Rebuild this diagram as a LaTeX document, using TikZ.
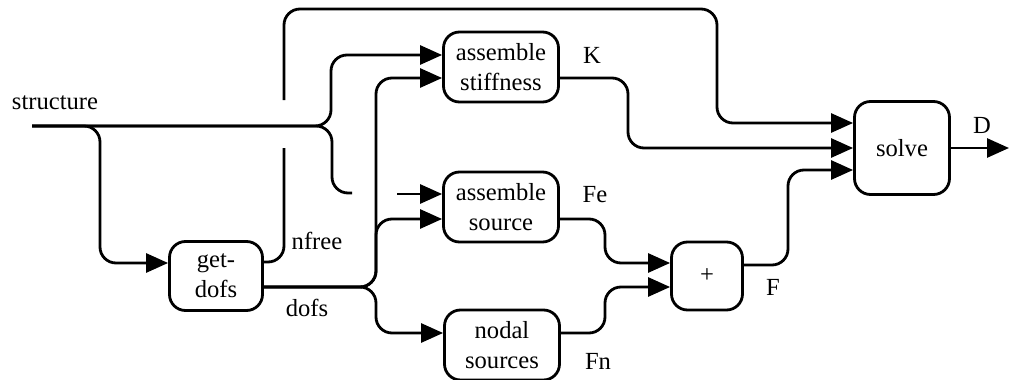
\documentclass[tikz,border=0pt]{standalone}
\usepackage{fontspec}
\setmainfont{Liberation Serif}
\usetikzlibrary{arrows.meta}
\begin{document}
\begin{tikzpicture}[x=0.5pt,y=-0.5pt,line width=1.4pt,line join=round,
	>={Triangle[length=11pt,width=9.5pt]},
	every node/.style={font=\fontsize{12.3}{15}\selectfont},
	block/.style={draw,rounded corners=8pt,align=center,inner sep=0pt},
	wire/.style={rounded corners=8pt},
	lbl/.style={inner sep=0pt}]
	\useasboundingbox (0,0) rectangle (1009,380);
	% blocks
	\node[block,minimum width=46.5pt,minimum height=34.5pt] (getdofs) at (216,276) {get-\\dofs};
	\node[block,minimum width=57.5pt,minimum height=35pt] (stiff) at (501,67) {assemble\\stiffness};
	\node[block,minimum width=57.5pt,minimum height=35pt] (source) at (501,207) {assemble\\source};
	\node[block,minimum width=57.5pt,minimum height=35pt] (nodal) at (502,345) {nodal\\sources};
	\node[block,minimum width=35.5pt,minimum height=34pt] (plus) at (707,276) {+};
	\node[block,minimum width=47.5pt,minimum height=46.5pt] (solve) at (902,148) {solve};
	% labels
	\node[lbl] (structure) at (55,103) {structure};
	\node[lbl] (nfree) at (317,241) {nfree};
	\node[lbl] (dofs) at (307,308) {dofs};
	\node[lbl] (K) at (592,55) {K};
	\node[lbl] (Fe) at (595,195) {Fe};
	\node[lbl] (Fn) at (598,361) {Fn};
	\node[lbl] (F) at (773,287) {F};
	\node[lbl] (D) at (982,125) {D};
	% free ends and hops
	\coordinate (in) at (32,126);
	\coordinate (endA) at (352,193);
	\coordinate (startB) at (397,194);
	\coordinate (hopA) at (284,148);
	\coordinate (hopB) at (284,100);
	\coordinate (out) at (1009,148);
	% structure
	\draw[wire,->] (in) -| (100,263) -- (getdofs.west |- 0,263);
	\draw[wire,->] (in) -| (331,55) -- (stiff.west |- 0,55);
	\draw[wire] (in) -| (332,193) -- (endA);
	\draw[->] (startB) -- (source.west |- 0,194);
	% nfree
	\draw[wire] (getdofs.east |- 0,262) -| (hopA);
	\draw[wire,->] (hopB) |- (717,9) |- (solve.west |- 0,123);
	% dofs
	\draw[wire,->] (getdofs.east |- 0,287) -| (376,78) -- (stiff.west |- 0,78);
	\draw[wire,->] (getdofs.east |- 0,287) -| (376,219) -- (source.west |- 0,219);
	\draw[wire,->] (getdofs.east |- 0,287) -| (376,333) -- (nodal.west |- 0,333);
	% results
	\draw[wire,->] (stiff.east |- 0,78) -| (628,148) -- (solve.west |- 0,148);
	\draw[wire,->] (source.east |- 0,219) -| (605,263) -- (plus.west |- 0,263);
	\draw[wire,->] (nodal.east |- 0,333) -| (605,287) -- (plus.west |- 0,287);
	\draw[wire,->] (plus.east |- 0,265) -| (788,170) -- (solve.west |- 0,170);
	\draw[->] (solve.east |- 0,148) -- (out);
\end{tikzpicture}
\end{document}
